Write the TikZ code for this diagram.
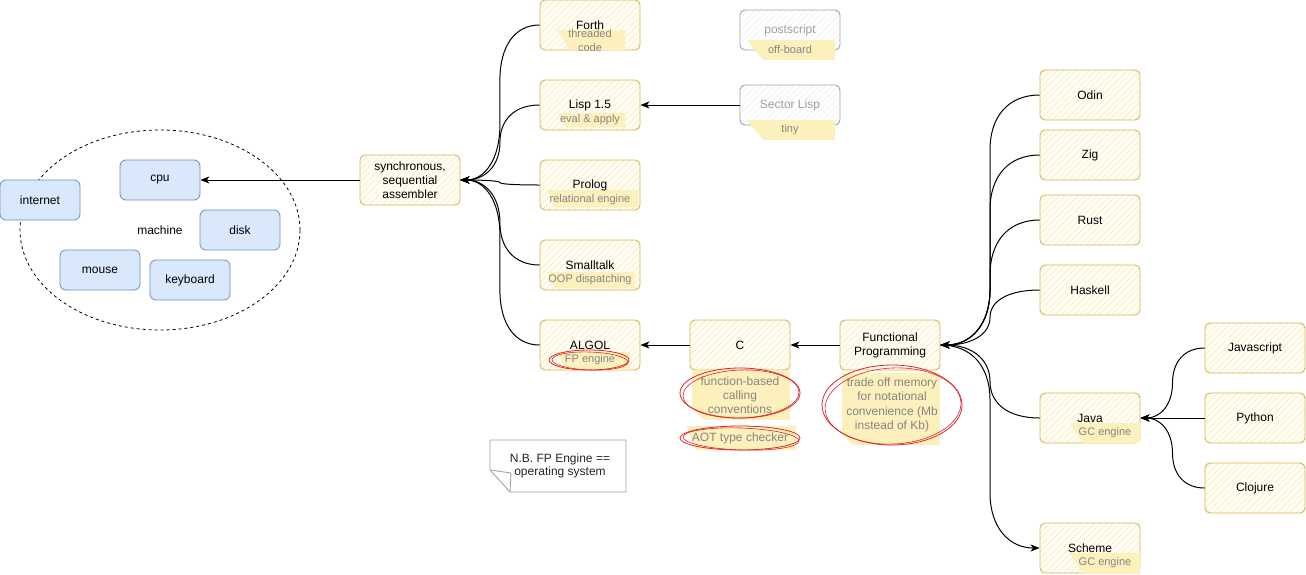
\documentclass[tikz,border=0pt]{standalone}
\usepackage{fontspec}
\setmainfont{Liberation Sans}
\usetikzlibrary{arrows.meta,shapes.geometric,calc,patterns.meta}
\definecolor{ystroke}{HTML}{D6B656}
\definecolor{yfill}{HTML}{FFFDF4}
\definecolor{yhatch}{HTML}{F6E9B8}
\definecolor{yhi}{HTML}{FCF1BC}
\definecolor{bfill}{HTML}{DAE8FC}
\definecolor{bstroke}{HTML}{6C8EBF}
\definecolor{gstroke}{HTML}{A3A3A3}
\definecolor{ghatch}{HTML}{EEEEEE}
\definecolor{gtext}{HTML}{858585}
\definecolor{ltext}{HTML}{A0A0A0}
\definecolor{redink}{HTML}{E0262A}
\begin{document}
\begin{tikzpicture}[x=1pt,y=-1pt,line width=1pt,
  font=\fontsize{12}{14}\selectfont,
  ybox/.style={rectangle,rounded corners=5pt,draw=ystroke,line width=0.9pt,
    preaction={fill=yfill},
    pattern={Lines[angle=45,distance=4.5pt,line width=0.5pt]},pattern color=yhatch,
    minimum width=100pt,minimum height=50pt,inner sep=0pt,align=center},
  gbox/.style={rectangle,rounded corners=5pt,draw=gstroke,line width=0.9pt,
    preaction={fill=white},
    pattern={Lines[angle=45,distance=4.5pt,line width=0.5pt]},pattern color=ghatch,
    minimum width=100pt,minimum height=40pt,inner sep=0pt,align=center,text=ltext},
  bbox/.style={rectangle,rounded corners=6pt,draw=bstroke,fill=bfill,line width=0.8pt,
    minimum width=80pt,minimum height=40pt,inner sep=0pt},
  sub/.style={font=\fontsize{11}{14}\selectfont,text=gtext,align=center,inner sep=0pt},
  note/.style={text=gtext,align=center,inner sep=0pt},
  edge/.style={-{Stealth[length=9pt,width=7pt,inset=2.5pt]},line width=1pt},
  curv/.style={to path={
    let \p1=(\tikztostart), \p2=(\tikztotarget),
        \n1={((\x1)+(\x2))/2},
        \n2={ifthenelse((\y2)>(\y1),1,-1)*min(abs((\y2)-(\y1))/2,55)},
        \n3={(\y1)+(\n2)}, \n4={(\y2)-(\n2)},
        \n5={(\x1)+0.62*((\n1)-(\x1))}, \n6={(\y1)+0.38*(\n2)},
        \n7={(\y2)-0.38*(\n2)}, \n8={(\x2)+0.62*((\n1)-(\x2))}
    in .. controls (\n5,\y1) and (\n1,\n6) .. (\n1,\n3) -- (\n1,\n4)
       .. controls (\n1,\n7) and (\n8,\y2) .. (\tikztotarget) \tikztonodes}}
]
\useasboundingbox (0,0) rectangle (1306,574);

% machine group
\node[ellipse,draw,line width=0.8pt,dash pattern=on 3pt off 3pt,
  minimum width=280pt,minimum height=200pt,inner sep=0pt] (machine) at (160,230) {machine};
\node[bbox] (internet) at (40,200) {internet};
\node[bbox] (cpu) at (160,180) {cpu};
\node[bbox] (disk) at (240,230) {disk};
\node[bbox] (mouse) at (100,270) {mouse};
\node[bbox] (keyboard) at (190,280) {keyboard};

% boxes
\node[ybox] (asm) at (410,180) {synchronous,\\sequential\\assembler};
\node[ybox] (forth) at (590,25) {};
\node[ybox] (lisp) at (590,105) {};
\node[ybox] (prolog) at (590,185) {};
\node[ybox] (smalltalk) at (590,265) {};
\node[ybox] (algol) at (590,345) {};
\node[ybox] (c) at (740,345) {};
\node[ybox] (fp) at (890,345) {};
\node[gbox] (postscript) at (790,30) {};
\node[gbox] (sectorlisp) at (790,105) {};
\node[ybox] (odin) at (1090,95) {};
\node[ybox] (zig) at (1090,155) {};
\node[ybox] (rust) at (1090,220) {};
\node[ybox] (haskell) at (1090,290) {};
\node[ybox] (java) at (1090,418) {};
\node[ybox] (scheme) at (1090,548) {};
\node[ybox] (javascript) at (1255,348) {};
\node[ybox] (python) at (1255,418) {};
\node[ybox] (clojure) at (1255,488) {};

% highlights
\fill[yhi] (557,30) -- (625,30) -- (625,50) -- (570,50) -- cycle;
\fill[yhi] (558,113) -- (625,113) -- (625,127) -- (566,127) -- cycle;
\fill[yhi] (547,190) -- (638,190) -- (638,207) -- (555,207) -- cycle;
\fill[yhi] (547,272) -- (635,272) -- (635,288) -- (555,288) -- cycle;
\fill[yhi] (557,352) -- (630,352) -- (630,370) -- (566,370) -- cycle;
\fill[yhi] (692,370) -- (790,370) -- (790,420) -- (704,420) -- (692,408) -- cycle;
\fill[yhi] (686,426) -- (796,426) -- (796,450) -- (696,450) -- cycle;
\fill[yhi] (842,373) -- (940,373) -- (940,445) -- (852,445) -- (842,433) -- cycle;
\fill[yhi] (1070,423) -- (1140,423) -- (1140,443) -- (1083,443) -- cycle;
\fill[yhi] (1070,553) -- (1140,553) -- (1140,574) -- (1083,574) -- cycle;
\fill[yhi] (747,40) -- (835,40) -- (835,60) -- (763,60) -- cycle;
\fill[yhi] (747,120) -- (835,120) -- (835,140) -- (763,140) -- cycle;

% labels
\node at (forth.center) {Forth};
\node at (lisp.center) {Lisp 1.5};
\node at (prolog.center) {Prolog};
\node at (smalltalk.center) {Smalltalk};
\node at (algol.center) {ALGOL};
\node at (c.center) {C};
\node[align=center] at (fp.center) {Functional\\Programming};
\node[text=ltext] at (postscript.center) {postscript};
\node[text=ltext] at (sectorlisp.center) {Sector Lisp};
\node at (odin.center) {Odin};
\node at (zig.center) {Zig};
\node at (rust.center) {Rust};
\node at (haskell.center) {Haskell};
\node at (java.center) {Java};
\node at (scheme.center) {Scheme};
\node at (javascript.center) {Javascript};
\node at (python.center) {Python};
\node at (clojure.center) {Clojure};

\node[sub] (forthsub) at (590,41) {threaded\\code};
\node[sub] (lispsub) at (590,120) {eval \& apply};
\node[sub] (prologsub) at (590,200) {relational engine};
\node[sub] (smalltalksub) at (590,280) {OOP dispatching};
\node[sub] (algolsub) at (590,360) {FP engine};
\node[sub] (javasub) at (1105,433) {GC engine};
\node[sub] (schemesub) at (1105,563) {GC engine};
\node[sub] (postsub) at (790,50) {off-board};
\node[sub] (sectorsub) at (790,130) {tiny};
\node[note] (csub) at (740,395) {function-based\\calling\\conventions};
\node[note] (aot) at (740,438) {AOT type checker};
\node[note,font=\fontsize{12}{14.4}\selectfont] (fpsub) at (892,405) {trade off memory\\for notational\\convenience (Mb\\instead of Kb)};

% red circles
\draw[redink,line width=0.8pt] (589,360) ellipse [x radius=40pt,y radius=10pt];
\draw[redink,line width=0.6pt,rotate around={-2:(590,361)}] (590,361) ellipse [x radius=38pt,y radius=9pt];
\draw[redink,line width=0.8pt] (740,393) ellipse [x radius=60pt,y radius=25pt];
\draw[redink,line width=0.6pt,rotate around={2:(741,394)}] (741,394) ellipse [x radius=58pt,y radius=24pt];
\draw[redink,line width=0.8pt] (740,438) ellipse [x radius=60pt,y radius=12pt];
\draw[redink,line width=0.6pt,rotate around={-2:(741,439)}] (741,439) ellipse [x radius=58pt,y radius=11pt];
\draw[redink,line width=0.8pt] (892,405) ellipse [x radius=70pt,y radius=40pt];
\draw[redink,line width=0.6pt,rotate around={3:(893,406)}] (893,406) ellipse [x radius=68pt,y radius=38pt];

% note
\draw[gstroke,line width=0.9pt,fill=white] (490,440) -- (626,440) -- (626,492) -- (510,492) -- (490,470) -- cycle;
\draw[gstroke,line width=0.9pt] (490,470) -- (511,473) -- (510,492);
\node[note,text=black!85,font=\fontsize{12}{13}\selectfont] (nb) at (560,466) {N.B. FP Engine ==\\operating system};

% connectors
\draw[edge] (asm.west) -- (cpu.east);
\draw[edge] (forth.west) to[curv] (asm.east);
\draw[edge] (lisp.west) to[curv] (asm.east);
\draw[edge] (prolog.west) to[curv] (asm.east);
\draw[edge] (smalltalk.west) to[curv] (asm.east);
\draw[edge] (algol.west) to[curv] (asm.east);
\draw[edge] (sectorlisp.west) -- (lisp.east);
\draw[edge] (c.west) -- (algol.east);
\draw[edge] (fp.west) -- (c.east);
\draw[edge] (odin.west) to[curv] (fp.east);
\draw[edge] (zig.west) to[curv] (fp.east);
\draw[edge] (rust.west) to[curv] (fp.east);
\draw[edge] (haskell.west) to[curv] (fp.east);
\draw[edge] (java.west) to[curv] (fp.east);
\draw[edge] (fp.east) to[curv] (scheme.west);
\draw[edge] (javascript.west) to[curv] (java.east);
\draw[edge] (python.west) -- (java.east);
\draw[edge] (clojure.west) to[curv] (java.east);
\end{tikzpicture}
\end{document}
